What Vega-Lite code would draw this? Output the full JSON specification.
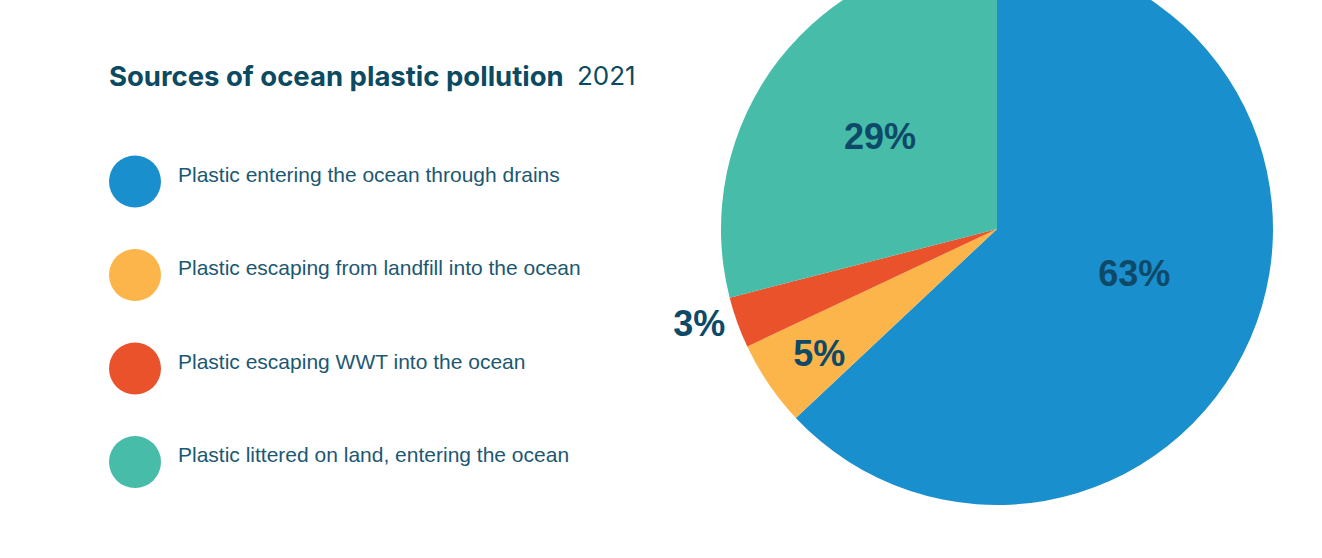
{
  "$schema": "https://vega.github.io/schema/vega-lite/v6.json",
  "width": 552,
  "height": 258,
  "autosize": {"type": "none"},
  "padding": {"left": 721, "top": 100, "right": 49, "bottom": 200},
  "background": "white",
  "title": {
    "text": "2021",
    "anchor": "start",
    "frame": "group",
    "dx": -144,
    "dy": 141,
    "font": "Inter",
    "fontSize": 26,
    "fontWeight": "normal",
    "color": "#0c4a62"
  },
  "data": {
    "values": [
      {"source": "Plastic entering the ocean through drains", "share": 0.63, "idx": 1},
      {"source": "Plastic escaping from landfill into the ocean", "share": 0.05, "idx": 2},
      {"source": "Plastic escaping WWT into the ocean", "share": 0.03, "idx": 3},
      {"source": "Plastic littered on land, entering the ocean", "share": 0.29, "idx": 4}
    ]
  },
  "encoding": {
    "theta": {"field": "share", "type": "quantitative", "stack": true},
    "order": {"field": "idx", "type": "ordinal"}
  },
  "layer": [
    {
      "mark": {"type": "arc", "outerRadius": 276},
      "encoding": {
        "color": {
          "field": "source",
          "type": "nominal",
          "scale": {
            "domain": [
              "Plastic entering the ocean through drains",
              "Plastic escaping from landfill into the ocean",
              "Plastic escaping WWT into the ocean",
              "Plastic littered on land, entering the ocean"
            ],
            "range": ["#1a8fce", "#fbb54a", "#e9522b", "#46bca9"]
          },
          "legend": {
            "orient": "none",
            "legendX": -612,
            "legendY": -36,
            "padding": 0,
            "title": "Sources of ocean plastic pollution",
            "titleFont": "Inter",
            "titleFontSize": 27.5,
            "titleFontWeight": "bold",
            "titleColor": "#0c4a62",
            "titleLimit": 700,
            "titlePadding": 64,
            "symbolType": "circle",
            "symbolSize": 2704,
            "symbolStrokeWidth": 0,
            "symbolOpacity": 1,
            "labelFont": "Liberation Sans",
            "labelFontSize": 21,
            "labelBaseline": "alphabetic",
            "labelColor": "#1c5872",
            "labelLimit": 700,
            "labelOffset": 17,
            "rowPadding": 41.5
          }
        }
      }
    },
    {
      "mark": {"type": "text", "radius": 145, "thetaOffset": -0.082, "font": "Liberation Sans", "fontSize": 36, "fontWeight": "bold", "color": "#0e4a68", "align": "center", "baseline": "middle"},
      "encoding": {
        "text": {"condition": {"test": "datum.share == 0.63", "field": "share", "type": "quantitative", "format": ".0%"}, "value": ""}
      }
    },
    {
      "mark": {"type": "text", "radius": 148, "font": "Liberation Sans", "fontSize": 36, "fontWeight": "bold", "color": "#0e4a68", "align": "center", "baseline": "middle"},
      "encoding": {
        "text": {"condition": {"test": "datum.share == 0.29", "field": "share", "type": "quantitative", "format": ".0%"}, "value": ""}
      }
    },
    {
      "mark": {"type": "text", "radius": 218, "thetaOffset": -0.02, "font": "Liberation Sans", "fontSize": 36, "fontWeight": "bold", "color": "#0e4a68", "align": "center", "baseline": "middle"},
      "encoding": {
        "text": {"condition": {"test": "datum.share == 0.05", "field": "share", "type": "quantitative", "format": ".0%"}, "value": ""}
      }
    },
    {
      "mark": {"type": "text", "radius": 313, "thetaOffset": 0.033, "font": "Liberation Sans", "fontSize": 36, "fontWeight": "bold", "color": "#0e4a68", "align": "center", "baseline": "middle"},
      "encoding": {
        "text": {"condition": {"test": "datum.share == 0.03", "field": "share", "type": "quantitative", "format": ".0%"}, "value": ""}
      }
    }
  ],
  "config": {"view": {"stroke": null}}
}
